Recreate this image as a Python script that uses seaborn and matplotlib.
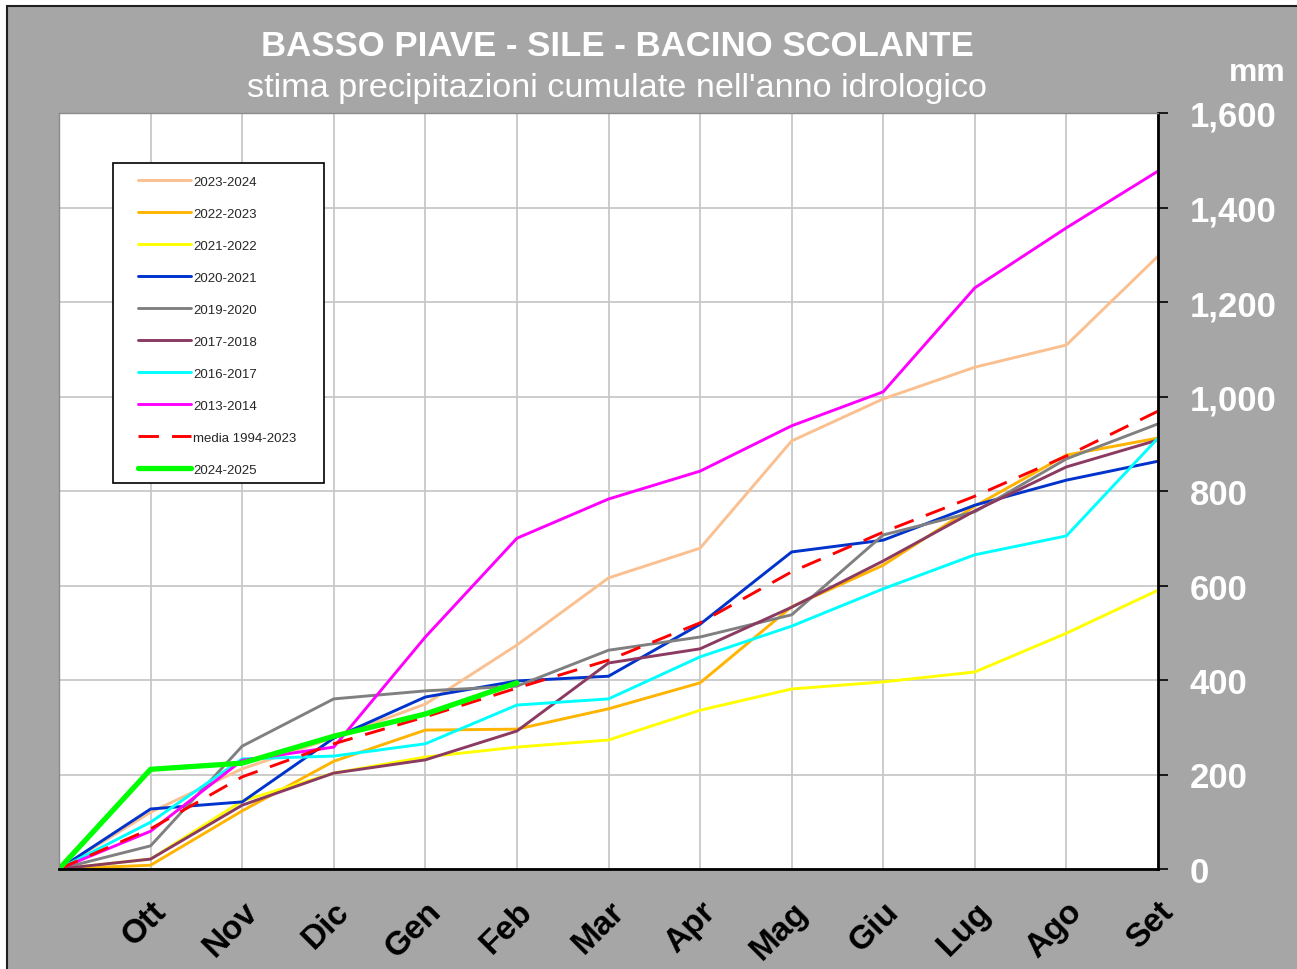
import numpy as np
import pandas as pd
import matplotlib
matplotlib.use("Agg")
import matplotlib.pyplot as plt
from matplotlib.patches import Rectangle
import seaborn as sns

# month labels (position 0 = start of the hydrological year)
months = ["", "Ott", "Nov", "Dic", "Gen", "Feb", "Mar", "Apr", "Mag", "Giu", "Lug", "Ago", "Set"]

# cumulated precipitation, mm
s_2023_2024 = [0, 120, 212, 278, 349, 474, 616, 679, 906, 995, 1062, 1109, 1297]
s_2022_2023 = [0, 8, 123, 228, 294, 296, 339, 394, 555, 643, 768, 876, 912]
s_2021_2022 = [0, 21, 144, 203, 237, 258, 273, 336, 381, 396, 417, 499, 590]
s_2020_2021 = [0, 127, 142, 277, 364, 398, 408, 518, 671, 696, 770, 823, 863]
s_2019_2020 = [0, 49, 260, 360, 377, 387, 463, 491, 538, 707, 756, 868, 942]
s_2017_2018 = [0, 21, 135, 203, 231, 292, 436, 466, 554, 652, 758, 851, 908]
s_2016_2017 = [0, 99, 233, 239, 265, 347, 360, 449, 514, 593, 665, 705, 912]
s_2013_2014 = [0, 80, 230, 258, 491, 700, 783, 842, 938, 1010, 1230, 1357, 1477]
media_1994_2023 = [0, 85, 195, 265, 322, 383, 442, 521, 629, 713, 789, 874, 969]
s_2024_2025 = [0, 211, 224, 281, 328, 394, np.nan, np.nan, np.nan, np.nan, np.nan, np.nan, np.nan]

series = [
    ("2023-2024", s_2023_2024, "#fac090", 2.1, "-"),
    ("2022-2023", s_2022_2023, "#ffb400", 2.1, "-"),
    ("2021-2022", s_2021_2022, "#ffff00", 2.1, "-"),
    ("2020-2021", s_2020_2021, "#0033cc", 2.1, "-"),
    ("2019-2020", s_2019_2020, "#808080", 2.1, "-"),
    ("2017-2018", s_2017_2018, "#8b3a62", 2.1, "-"),
    ("2016-2017", s_2016_2017, "#00ffff", 2.1, "-"),
    ("2013-2014", s_2013_2014, "#ff00ff", 2.1, "-"),
    ("media 1994-2023", media_1994_2023, "#ff0000", 2.1, "--"),
    ("2024-2025", s_2024_2025, "#00ff00", 3.8, "-"),
]

BG = "#a6a6a6"
sns.set_style("white")
plt.rcParams["font.family"] = ["Liberation Sans", "DejaVu Sans"]

fig = plt.figure(figsize=(12.97, 9.70), dpi=100)
fig.patch.set_facecolor("white")
# gray panel with dark border
fig.patches.append(Rectangle((7 / 1297, -0.01), 1.02, (970 - 7) / 970 + 0.01,
                             transform=fig.transFigure, facecolor=BG,
                             edgecolor="#202020", linewidth=1.5, zorder=-10))

ax = fig.add_axes([59 / 1297, 100 / 970, 1099 / 1297, 756 / 970])
ax.set_facecolor("white")

x = np.arange(len(months))
for name, vals, col, lw, ls in series:
    df = pd.DataFrame({"x": x, "y": vals})
    sns.lineplot(data=df, x="x", y="y", ax=ax, color=col, linewidth=lw,
                 label=name, estimator=None)
    if ls == "--":
        ax.lines[-1].set_dashes((7, 4.5))

ax.set_xlim(0, 12)
ax.set_ylim(0, 1600)
ax.set_xticks(x)
ax.set_xticklabels(months, rotation=45, ha="right", rotation_mode="anchor",
                   fontsize=24, fontweight="bold", color="black")
yt = np.arange(0, 1601, 200)
ax.set_yticks(yt)
ax.set_yticklabels([f"{v:,}" for v in yt], fontsize=25, fontweight="bold", color="white")
ax.yaxis.tick_right()
ax.tick_params(axis="y", direction="out", length=7, width=1.2, color="black", pad=16)
ax.tick_params(axis="x", direction="out", length=7, width=1.2, color="black", pad=12)
ax.set_xlabel("")
ax.set_ylabel("")
ax.grid(True, color="#c8c8c8", linewidth=1.3)
ax.set_axisbelow(True)
for side in ["top", "left"]:
    ax.spines[side].set_color("#8c8c8c")
    ax.spines[side].set_linewidth(1)
for side in ["right", "bottom"]:
    ax.spines[side].set_color("black")
    ax.spines[side].set_linewidth(2)

# legend box drawn separately so its padding matches the original
x0, y0 = (113 - 59) / 1099, (870 - 484) / 756
ax.add_patch(Rectangle((x0, y0), (324 - 113) / 1099, (484 - 164) / 756,
                       transform=ax.transAxes, facecolor="white", edgecolor="black",
                       linewidth=1.2, zorder=4))
leg = ax.legend(loc="upper left", bbox_to_anchor=((138 - 59) / 1099, (870 - 176.5) / 756),
                borderaxespad=0, borderpad=0, fontsize=9.5, handlelength=4,
                handletextpad=0.2, labelspacing=1.5, frameon=False)
leg.set_zorder(5)

fig.text(617 / 1297, 1 - 47 / 970, "BASSO PIAVE - SILE - BACINO SCOLANTE",
         ha="center", va="center", fontsize=25, fontweight="bold", color="white")
fig.text(617 / 1297, 1 - 88 / 970, "stima precipitazioni cumulate nell'anno idrologico",
         ha="center", va="center", fontsize=24.7, color="white")
fig.text(1257 / 1297, 1 - 73 / 970, "mm", ha="center", va="center",
         fontsize=23, fontweight="bold", color="white")

fig.savefig("out.png", dpi=100, facecolor=fig.get_facecolor())
